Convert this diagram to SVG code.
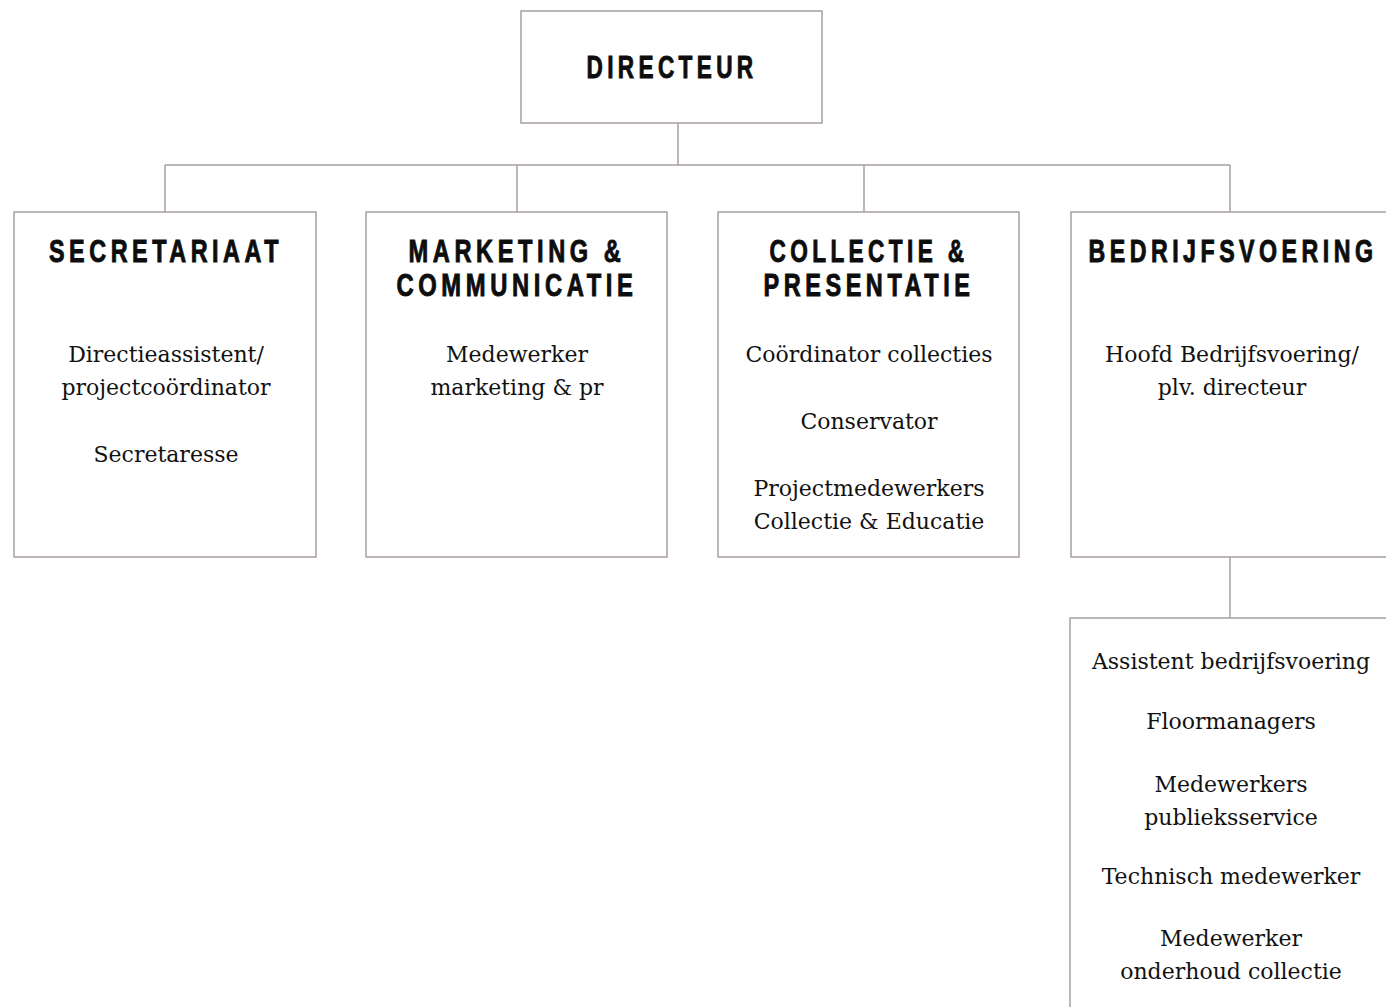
<svg xmlns="http://www.w3.org/2000/svg" width="1386" height="1007" viewBox="0 0 1386 1007">
<style>
.box{fill:#fff;stroke:#a89e9e;stroke-width:1.5}
.conn{fill:none;stroke:#a89e9e;stroke-width:1.5}
.t{font-family:"Liberation Sans",Arial,sans-serif;font-weight:bold;font-size:31px;letter-spacing:6px;fill:#0d0d0d;stroke:#0d0d0d;stroke-width:0.9px;text-anchor:middle}
.b{font-family:"DejaVu Serif","Liberation Serif",serif;font-size:22px;fill:#111;text-anchor:middle}
</style>
<rect width="1386" height="1007" fill="#fff"/>
<g id="connectors">
<path class="conn" d="M678 123V165M165 165H1230M165 165V212M517 165V212M864 165V212M1230 165V212M1230 557V618"/>
</g>
<g id="directeur">
<rect class="box" x="521" y="11" width="301" height="112"/>
<text class="t" x="672" y="78" textLength="171" lengthAdjust="spacingAndGlyphs">DIRECTEUR</text>
</g>
<g id="secretariaat">
<rect class="box" x="14" y="212" width="302" height="345"/>
<text class="t" x="166" y="262" textLength="234" lengthAdjust="spacingAndGlyphs">SECRETARIAAT</text>
<text class="b" x="166" y="362">Directieassistent/</text>
<text class="b" x="166" y="395">projectcoördinator</text>
<text class="b" x="166" y="462">Secretaresse</text>
</g>
<g id="marketing">
<rect class="box" x="366" y="212" width="301" height="345"/>
<text class="t" x="517" y="262" textLength="217" lengthAdjust="spacingAndGlyphs">MARKETING &amp;</text>
<text class="t" x="517" y="296" textLength="241" lengthAdjust="spacingAndGlyphs">COMMUNICATIE</text>
<text class="b" x="517" y="362">Medewerker</text>
<text class="b" x="517" y="395">marketing &amp; pr</text>
</g>
<g id="collectie">
<rect class="box" x="718" y="212" width="301" height="345"/>
<text class="t" x="869" y="262" textLength="199" lengthAdjust="spacingAndGlyphs">COLLECTIE &amp;</text>
<text class="t" x="869" y="296" textLength="211" lengthAdjust="spacingAndGlyphs">PRESENTATIE</text>
<text class="b" x="869" y="362">Coördinator collecties</text>
<text class="b" x="869" y="429">Conservator</text>
<text class="b" x="869" y="496">Projectmedewerkers</text>
<text class="b" x="869" y="529">Collectie &amp; Educatie</text>
</g>
<g id="bedrijfsvoering">
<rect class="box" x="1071" y="212" width="330" height="345"/>
<text class="t" x="1233" y="262" textLength="289" lengthAdjust="spacingAndGlyphs">BEDRIJFSVOERING</text>
<text class="b" x="1232" y="362">Hoofd Bedrijfsvoering/</text>
<text class="b" x="1232" y="395">plv. directeur</text>
</g>
<g id="bedrijfsvoering-staf">
<rect class="box" x="1070" y="618" width="330" height="400"/>
<text class="b" x="1231" y="669">Assistent bedrijfsvoering</text>
<text class="b" x="1231" y="729">Floormanagers</text>
<text class="b" x="1231" y="792">Medewerkers</text>
<text class="b" x="1231" y="825">publieksservice</text>
<text class="b" x="1231" y="884">Technisch medewerker</text>
<text class="b" x="1231" y="946">Medewerker</text>
<text class="b" x="1231" y="979">onderhoud collectie</text>
</g>
</svg>
